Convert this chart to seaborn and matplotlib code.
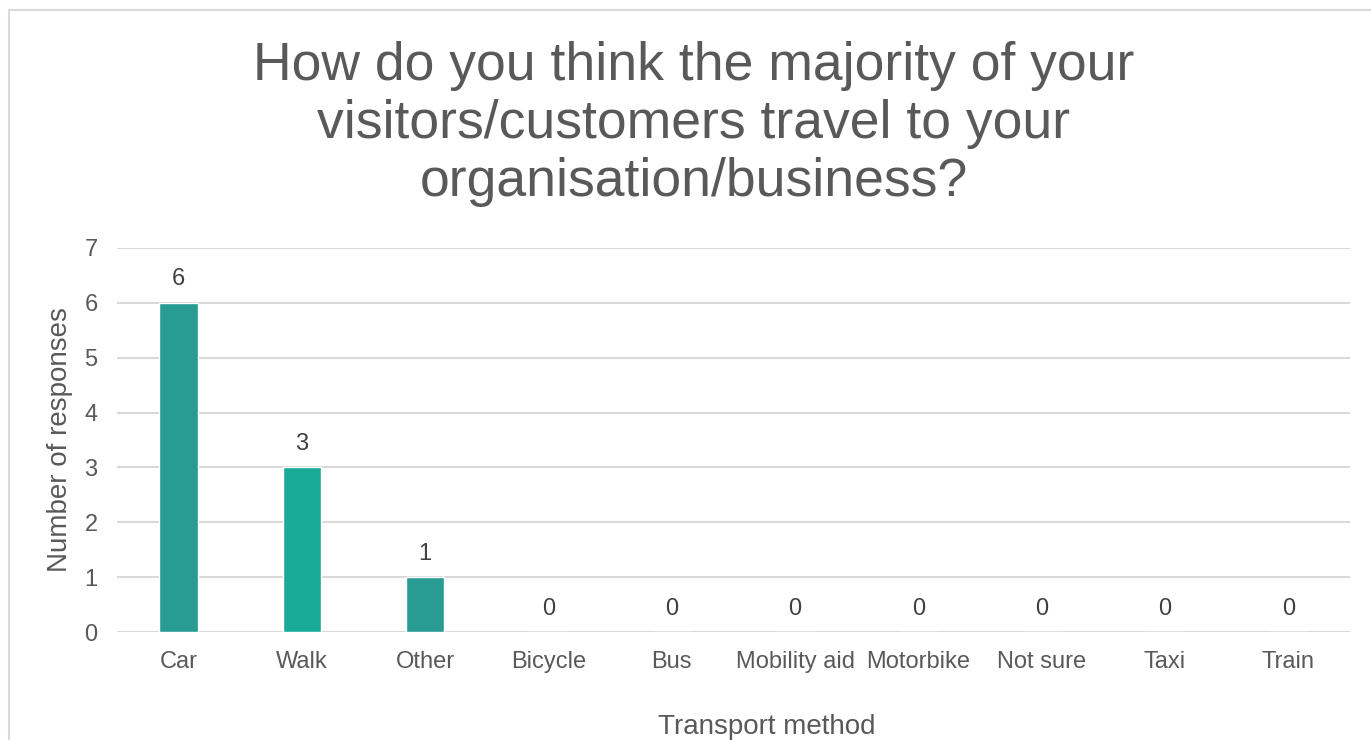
import numpy as np
import pandas as pd
import seaborn as sns
import matplotlib.pyplot as plt
from matplotlib.patches import Rectangle

# Chart data
methods = ['Car', 'Walk', 'Other', 'Bicycle', 'Bus', 'Mobility aid',
           'Motorbike', 'Not sure', 'Taxi', 'Train']
responses = [6, 3, 1, 0, 0, 0, 0, 0, 0, 0]
bar_colours = ['#289b92', '#1aab98', '#289b92', '#289b92', '#289b92',
               '#289b92', '#289b92', '#289b92', '#289b92', '#289b92']

df = pd.DataFrame({'method': methods, 'count': responses})

sns.set_theme(style='white')
plt.rcParams['font.family'] = ['Liberation Sans', 'DejaVu Sans']
text_col = '#595959'

fig = plt.figure(figsize=(13.71, 7.40), dpi=100)
ax = fig.add_axes([0.0853, 0.1459, 0.8994, 0.519])

sns.barplot(data=df, x='method', y='count', hue='method', palette=bar_colours,
            legend=False, width=0.31, ax=ax, saturation=1)

ax.set_ylim(0, 7)
ax.set_yticks(range(0, 8))
ax.set_xlim(-0.5, len(methods) - 0.5)
ax.yaxis.grid(True, color='#d9d9d9', linewidth=1.5)
ax.set_axisbelow(True)
for s in ax.spines.values():
    s.set_visible(False)
ax.tick_params(axis='both', length=0, labelsize=17, labelcolor=text_col)
ax.tick_params(axis='y', pad=14)
ax.tick_params(axis='x', pad=14)

# data labels
for i, v in enumerate(responses):
    ax.annotate(str(v), (i, v), xytext=(0, 9), textcoords='offset points',
                ha='center', va='bottom', fontsize=17, color='#404040')

ax.set_xlabel('')
ax.set_ylabel('')
fig.text(767 / 1371, 1 - 727 / 740, 'Transport method', ha='center', va='center',
         fontsize=20, color=text_col)
fig.text(60 / 1371, 1 - 440 / 740, 'Number of responses', ha='center', va='center',
         rotation=90, fontsize=20, color=text_col)

fig.text(0.506, 1 - 124 / 740, 'How do you think the majority of your\nvisitors/customers travel to your\norganisation/business?',
         ha='center', va='center', fontsize=38.5, color=text_col, linespacing=1.2)

# chart area border (cropped at right and bottom)
fig.patches.append(Rectangle((9 / 1371, -0.05), 1.1, 0.9865 + 0.05, transform=fig.transFigure,
                             fill=False, edgecolor='#d9d9d9', linewidth=1.5))

fig.savefig('out.png', dpi=100)
